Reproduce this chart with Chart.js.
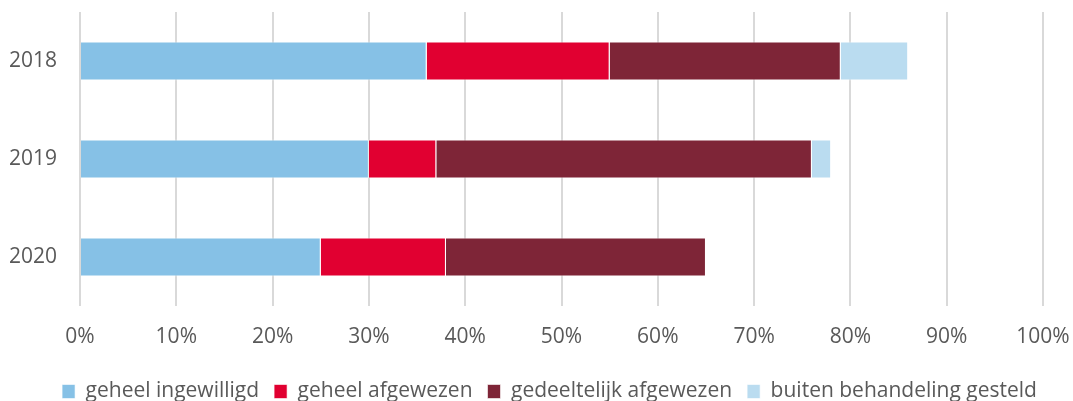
<!DOCTYPE html>
<html><head><meta charset="utf-8">
<script src="https://cdn.jsdelivr.net/npm/chart.js@4"></script>
<style>html,body{margin:0;padding:0;background:#fff}#w{width:1073px;height:401px}</style>
</head><body><div id="w"><canvas id="c"></canvas></div>
<script>
const categories = ["2018", "2019", "2020"];
const geheelIngewilligd = [36, 30, 25];
const geheelAfgewezen = [19, 7, 13];
const gedeeltelijkAfgewezen = [24, 39, 27];
const buitenBehandeling = [7, 2, 0];
const xTicks = [0,10,20,30,40,50,60,70,80,90,100];

const mk = (label, data, color) => ({label, data, backgroundColor: color, borderColor: 'rgba(255,255,255,0.6)', borderWidth: 1, barPercentage: 1, categoryPercentage: 0.4});
const legendShift = {
  id: 'legendShift',
  afterLayout(chart) { const l = chart.legend; if (l) { l.left = 26; l.right = chart.width; } }
};
new Chart(document.getElementById('c'), {
  type: 'bar',
  data: { labels: categories, datasets: [
    mk('geheel ingewilligd', geheelIngewilligd, '#86C1E6'),
    mk('geheel afgewezen', geheelAfgewezen, '#E10031'),
    mk('gedeeltelijk afgewezen', gedeeltelijkAfgewezen, '#7E2537'),
    mk('buiten behandeling gesteld', buitenBehandeling, '#BADCF0')
  ]},
  plugins: [legendShift],
  options: {
    indexAxis: 'y', responsive: true, maintainAspectRatio: false, animation: false,
    layout: { padding: { top: 12, right: 30, left: 0, bottom: -11 } },
    plugins: {
      tooltip: { enabled: false },
      legend: { position: 'bottom', labels: { font: { family: 'Open Sans', size: 21 }, color: '#595959', boxWidth: 13, boxHeight: 14, padding: 15 } }
    },
    scales: {
      x: { stacked: true, min: 0, max: 100,
        afterBuildTicks: s => { s.ticks = xTicks.map(v => ({value: v})); },
        afterFit: s => { s.height = 60; s.paddingLeft = 0; s.paddingRight = 0; },
        ticks: { callback: v => v + '%', font: { family: 'Open Sans', size: 21 }, color: '#595959', padding: 18, maxRotation: 0 },
        grid: { color: '#D9D9D9', lineWidth: 2, drawTicks: false }, border: { display: false } },
      y: { stacked: true,
        afterFit: s => { s.width = 80; s.paddingTop = 0; s.paddingBottom = 0; },
        ticks: { font: { family: 'Open Sans', size: 21 }, color: '#595959', padding: 15 },
        grid: { display: false }, border: { display: false } }
    }
  }
});
</script></body></html>
